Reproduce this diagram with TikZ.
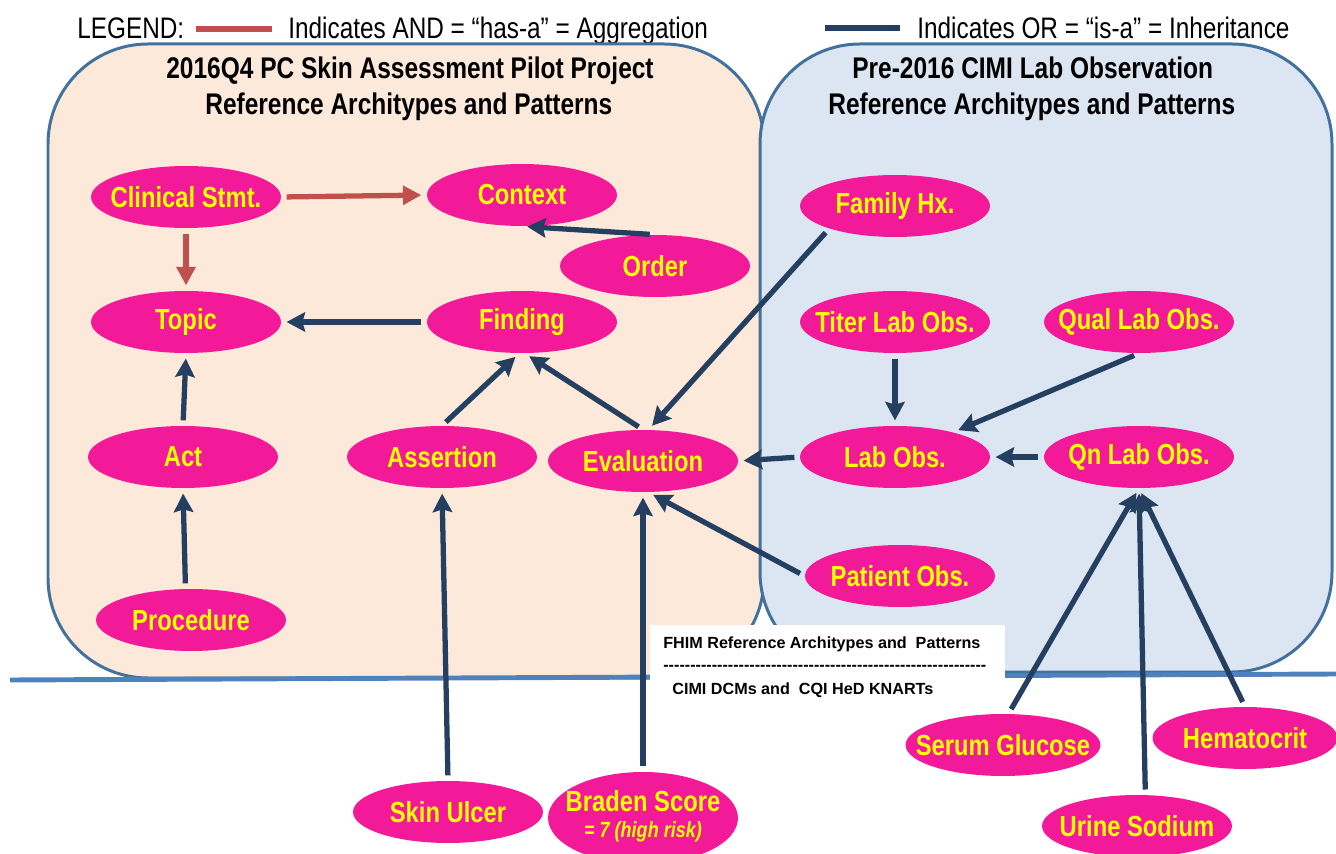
\documentclass[tikz,border=0pt]{standalone}
\usepackage{fontspec}
\setmainfont{Liberation Sans}
\newfontfamily\narrow[FakeStretch=0.82]{Liberation Sans}
\usetikzlibrary{shapes.geometric,arrows.meta}

\definecolor{obspink}{HTML}{F21A98}
\definecolor{obsyellow}{HTML}{FFFF00}
\definecolor{hasared}{HTML}{C0504D}
\definecolor{isanavy}{HTML}{243F60}
\definecolor{boxline}{HTML}{41719C}
\definecolor{skinfill}{HTML}{FDE9D9}
\definecolor{labfill}{HTML}{DCE6F2}
\definecolor{fhimline}{HTML}{4F81BD}

% text is kept out of the ellipse size
\newcommand\lbl[1]{\makebox[0pt]{#1}}

\begin{document}
\begin{tikzpicture}[x=0.02cm,y=-0.02cm,
  obs/.style={ellipse,fill=obspink,text=obsyellow,inner sep=0pt,
    minimum width=3.8cm,minimum height=1.24cm,
    font=\narrow\bfseries\fontsize{16.5}{18}\selectfont},
  hasa/.style={draw=hasared,line width=3pt,-{Triangle[length=10.5pt,width=10.5pt]},
    shorten >=3pt,shorten <=3pt},
  isa/.style={draw=isanavy,line width=3pt,-{Stealth[length=10.5pt,width=11pt,inset=1.5pt]},
    shorten >=3pt,shorten <=3pt},
  legend/.style={anchor=base west,inner sep=0pt,font=\narrow\fontsize{16.9}{18}\selectfont},
  title/.style={anchor=base west,inner sep=0pt,font=\narrow\bfseries\fontsize{17}{19}\selectfont},
  fhim/.style={anchor=base west,inner sep=0pt,font=\bfseries\fontsize{9.2}{11}\selectfont}]
\useasboundingbox (0,0) rectangle (1336,854);

% legend
\node[legend] (legtitle) at (77,38.5) {LEGEND:};
\draw[hasared,line width=3.4pt] (196,29) -- (272,29);
\node[legend] (legand) at (288,38.5) {Indicates AND = “has-a” = Aggregation};
\draw[isanavy,line width=3.4pt] (825,28) -- (900,28);
\node[legend] (legor) at (917,38.5) {Indicates OR = “is-a” = Inheritance};

% the two model areas
\draw[boxline,line width=1.7pt,fill=skinfill,rounded corners=2cm] (48,44) rectangle (764,678);
\draw[boxline,line width=1.7pt,fill=labfill,rounded corners=2cm] (760,44) rectangle (1332,672);
\draw[fhimline,line width=2.8pt] (10,680) -- (1336,674);
\fill[white] (650,625) rectangle (1005,708);

\node[title] (skintitle) at (166,78.5) {2016Q4 PC Skin Assessment Pilot Project};
\node[title] (skinsub) at (205,114.5) {Reference Architypes and Patterns};
\node[title] (labtitle) at (852,78.5) {Pre-2016 CIMI Lab Observation};
\node[title] (labsub) at (828,114.5) {Reference Architypes and Patterns};

\node[fhim] (fhimtop) at (663,649) {FHIM Reference Architypes and\ \ Patterns};
\node[fhim] (fhimrule) at (663,671) {\foreach \i in {1,...,60}{-}};
\node[fhim] (fhimbot) at (672,695) {CIMI DCMs and\ \ CQI HeD KNARTs};

% skin assessment side
\node[obs] (clinstmt) at (186,197) {\lbl{Clinical Stmt.}};
\node[obs] (context) at (522,195) {\lbl{Context}};
\node[obs] (order) at (655,266) {\lbl{Order}};
\node[obs] (topic) at (186,322) {\lbl{Topic}};
\node[obs] (finding) at (522,322) {\lbl{Finding}};
\node[obs] (act) at (183,457) {\lbl{Act}};
\node[obs] (assertion) at (442,457) {\lbl{Assertion}};
\node[obs] (evaluation) at (643,461) {\lbl{Evaluation}};
\node[obs] (procedure) at (191,620) {\lbl{Procedure}};
\node[obs] (skinulcer) at (448,812) {\lbl{Skin Ulcer}};
\node[obs,minimum height=1.84cm] (braden) at (643,818)
  {\lbl{\begin{tabular}{@{}c@{}}Braden Score\\[-3pt]
   {\itshape\fontsize{12.5}{14}\selectfont = 7 (high risk)}\end{tabular}}};

% lab observation side
\node[obs] (famhx) at (895,206) {\lbl{Family Hx.}};
\node[obs] (titer) at (895,322) {\lbl{Titer Lab Obs.}};
\node[obs] (qual) at (1139,322) {\lbl{Qual Lab Obs.}};
\node[obs] (labobs) at (895,457) {\lbl{Lab Obs.}};
\node[obs] (qnlab) at (1139,457) {\lbl{Qn Lab Obs.}};
\node[obs] (patobs) at (900,576) {\lbl{Patient Obs.}};
\node[obs,minimum width=3.9cm] (serum) at (1003,745) {\lbl{Serum Glucose}};
\node[obs,minimum width=3.7cm] (hemat) at (1245,738) {\lbl{Hematocrit}};
\node[obs] (urine) at (1137,826) {\lbl{Urine Sodium}};

% has-a
\draw[hasa] (clinstmt.east) -- (context.west);
\draw[hasa] (clinstmt.south) -- (topic.north);

% is-a
\draw[isa] (order.north) -- (context.south);
\draw[isa] (finding.west) -- (topic.east);
\draw[isa] (act.north) -- (topic.south);
\draw[isa] (procedure.100) -- (act.south);
\draw[isa] (assertion.north) -- (finding.-95);
\draw[isa] (evaluation.north) -- (finding.-85);
\draw[isa] (famhx.199) -- (evaluation.80);
\draw[isa] (titer.south) -- (labobs.north);
\draw[isa] (qual.south) -- (labobs.23);
\draw[isa] (qnlab.west) -- (labobs.east);
\draw[isa] (labobs.west) -- (evaluation.east);
\draw[isa] (patobs.west) -- (evaluation.-80);
\draw[isa] (skinulcer.north) -- (assertion.south);
\draw[isa] (braden.north) -- (evaluation.south);
\draw[isa] (serum.80) -- (qnlab.south);
\draw[isa] (urine.75) -- (qnlab.south);
\draw[isa] (hemat.north) -- (qnlab.south);
\end{tikzpicture}
\end{document}
